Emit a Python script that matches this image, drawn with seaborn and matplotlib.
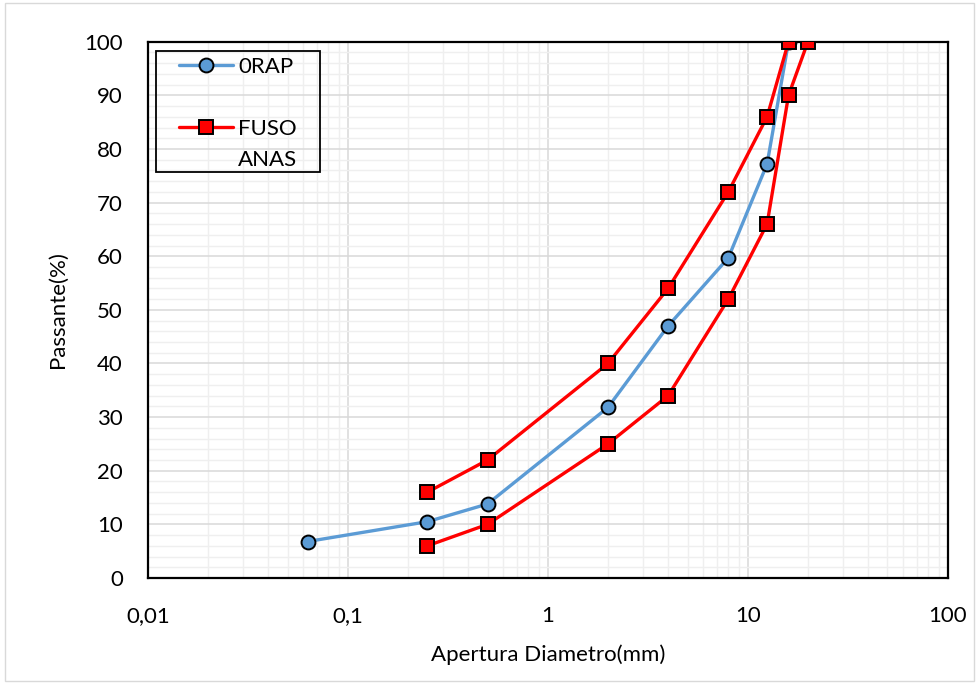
"""Grading curve: 0RAP vs FUSO ANAS limits (log x axis)."""

import matplotlib
matplotlib.use("Agg")

import matplotlib.pyplot as plt
import matplotlib.ticker as mticker
import pandas as pd
import seaborn as sns
from matplotlib.lines import Line2D
from matplotlib.patches import Rectangle

# sieve openings (mm) and percent passing
rap_size = [0.063, 0.25, 0.5, 2, 4, 8, 12.5, 16]
rap_pass = [6.8, 10.5, 13.8, 31.8, 47, 59.7, 77.2, 100]

upper_size = [0.25, 0.5, 2, 4, 8, 12.5, 16]
upper_pass = [16, 22, 40, 54, 72, 86, 100]

lower_size = [0.25, 0.5, 2, 4, 8, 12.5, 16, 20]
lower_pass = [6, 10, 25, 34, 52, 66, 90, 100]

x_ticks = [0.01, 0.1, 1, 10, 100]
x_labels = ["0,01", "0,1", "1", "10", "100"]

BLUE = "#5b9bd5"
RED = "#ff0000"
W, H = 979, 684

sns.set_theme(style="white")
plt.rcParams["font.family"] = ["Lato", "DejaVu Sans"]

df = pd.concat([
    pd.DataFrame({"size": rap_size, "pass": rap_pass, "curve": "0RAP"}),
    pd.DataFrame({"size": upper_size, "pass": upper_pass, "curve": "upper"}),
    pd.DataFrame({"size": lower_size, "pass": lower_pass, "curve": "lower"}),
])

fig = plt.figure(figsize=(W / 100, H / 100), dpi=100)
ax = fig.add_axes([0.151, 0.155, 0.817, 0.784])

styles = {
    "0RAP": dict(color=BLUE, marker="o", ms=10, zorder=3),
    "upper": dict(color=RED, marker="s", ms=10.5, zorder=4),
    "lower": dict(color=RED, marker="s", ms=10.5, zorder=4),
}
for name, sub in df.groupby("curve", sort=False):
    st = styles[name]
    sns.lineplot(data=sub, x="size", y="pass", ax=ax, sort=False,
                 estimator=None, color=st["color"], lw=2.4,
                 marker=st["marker"], markersize=st["ms"],
                 markerfacecolor=st["color"], markeredgecolor="black",
                 markeredgewidth=1.4, zorder=st["zorder"])

ax.set_xscale("log")
ax.set_xlim(0.01, 100)
ax.set_ylim(0, 100)
ax.set_xticks(x_ticks)
ax.set_xticklabels(x_labels)
ax.xaxis.set_minor_locator(mticker.LogLocator(base=10, subs=range(2, 10)))
ax.xaxis.set_minor_formatter(mticker.NullFormatter())
ax.set_yticks(range(0, 101, 10))
ax.yaxis.set_minor_locator(mticker.MultipleLocator(2))

ax.grid(which="major", color="#d9d9d9", lw=1.1)
ax.grid(which="minor", color="#efefef", lw=1.0)
ax.set_axisbelow(True)

for sp in ax.spines.values():
    sp.set_color("black")
    sp.set_linewidth(1.6)

ax.tick_params(axis="both", which="major", direction="out", length=6,
               width=1.4, color="black", labelsize=16, labelcolor="black")
ax.tick_params(axis="both", which="minor", length=0)
ax.tick_params(axis="y", pad=12)
ax.tick_params(axis="x", pad=14)

ax.set_xlabel("Apertura Diametro(mm)", fontsize=16, color="black")
ax.set_ylabel("Passante(%)", fontsize=16, color="black")
ax.xaxis.label.set_va("center")
ax.yaxis.label.set_va("center")
ax.xaxis.set_label_coords(0.5, -0.144)
ax.yaxis.set_label_coords(-0.1125, 0.5)

# legend: four rows so the red handle sits on the "FUSO" line
blank = Line2D([], [], lw=0)
handles = [
    Line2D([], [], color=BLUE, lw=2.4, marker="o", ms=10,
           markerfacecolor=BLUE, markeredgecolor="black", markeredgewidth=1.4),
    blank,
    Line2D([], [], color=RED, lw=2.4, marker="s", ms=10.5,
           markerfacecolor=RED, markeredgecolor="black", markeredgewidth=1.4),
    blank,
]
leg = ax.legend(handles, ["0RAP", " ", "FUSO", "ANAS"], loc="upper left",
                bbox_to_anchor=(179 / W, 1 - 57 / H),
                bbox_transform=fig.transFigure, fontsize=16, frameon=False,
                handlelength=2.45, labelspacing=0.5, borderpad=0,
                borderaxespad=0, handletextpad=0.2)
for t in leg.get_texts():
    t.set_color("black")
ax.add_patch(Rectangle((156 / W, 1 - 172 / H), 164 / W, 121 / H,
                       transform=fig.transFigure, fill=False,
                       edgecolor="black", lw=1.3, zorder=6))

fig.patches.append(Rectangle((0.005, 0.005), 0.99, 0.99, transform=fig.transFigure,
                             fill=False, edgecolor="#d9d9d9", lw=1.0))

fig.savefig("out.png", dpi=100)
